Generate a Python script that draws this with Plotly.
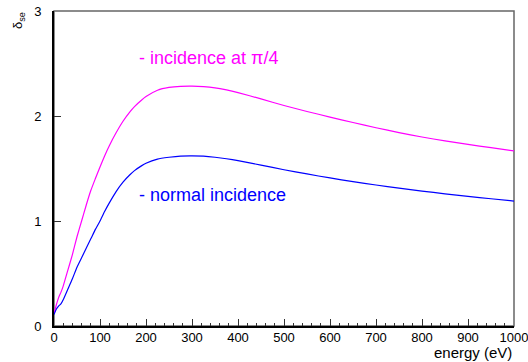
import plotly.graph_objects as go

energy = [0, 5, 10, 15, 20, 30, 40, 50, 60, 70, 80, 90, 100, 110, 120, 135, 150, 165, 175, 190, 200,
          225, 250, 275, 300, 325, 350, 375, 400, 450, 500, 550, 600, 650, 700, 750, 800, 850, 900,
          950, 1000]
yield_pi4 = [0.12, 0.20, 0.27, 0.32, 0.38, 0.53, 0.68, 0.85, 1.00, 1.15, 1.29, 1.405, 1.515, 1.62,
             1.715, 1.84, 1.95, 2.04, 2.09, 2.15, 2.185, 2.245, 2.272, 2.283, 2.285, 2.280, 2.268,
             2.248, 2.223, 2.163, 2.100, 2.043, 1.99, 1.938, 1.888, 1.842, 1.800, 1.763, 1.730,
             1.698, 1.668]
yield_normal = [0.11, 0.16, 0.19, 0.21, 0.25, 0.35, 0.45, 0.56, 0.65, 0.74, 0.83, 0.92, 1.00, 1.09,
                1.17, 1.28, 1.37, 1.44, 1.48, 1.525, 1.55, 1.59, 1.607, 1.618, 1.62, 1.617, 1.607,
                1.593, 1.575, 1.532, 1.488, 1.448, 1.41, 1.375, 1.343, 1.313, 1.285, 1.259, 1.235,
                1.212, 1.19]

x_ticks = list(range(0, 1001, 100))
y_ticks = [0, 1, 2, 3]

FONT = "Liberation Sans"

fig = go.Figure()
fig.add_trace(go.Scatter(x=energy, y=yield_pi4, mode="lines",
                         line=dict(color="#ff00ff", width=1.2, shape="spline", smoothing=0.5),
                         showlegend=False))
fig.add_trace(go.Scatter(x=energy, y=yield_normal, mode="lines",
                         line=dict(color="#0000ff", width=1.2, shape="spline", smoothing=0.5),
                         showlegend=False))

fig.add_shape(type="rect", xref="paper", yref="paper", x0=0, x1=1, y0=0, y1=1,
              line=dict(color="#666666", width=1.5), layer="below")

fig.update_layout(
    width=528, height=362,
    margin=dict(l=54, r=14, t=11, b=36),
    paper_bgcolor="white", plot_bgcolor="white",
    font=dict(family=FONT, size=13, color="black"),
    xaxis=dict(range=[0, 1000], tickvals=x_ticks, ticktext=[str(v) for v in x_ticks],
               ticks="inside", ticklen=7, tickwidth=1, tickcolor="#333333",
               minor=dict(ticks="inside", ticklen=3.5, dtick=20, tickcolor="#333333", showgrid=False),
               showline=True, linecolor="black", linewidth=2, showgrid=False, zeroline=False,
               tickfont=dict(family=FONT, size=13), ticklabeloverflow="allow", automargin=False,
               ticklabelstandoff=-2),
    yaxis=dict(range=[0, 3], tickvals=y_ticks, ticktext=[str(v) for v in y_ticks],
               ticks="inside", ticklen=7, tickwidth=1, tickcolor="#333333",
               showline=True, linecolor="black", linewidth=2, showgrid=False, zeroline=False,
               tickfont=dict(family=FONT, size=13), ticklabelstandoff=8, automargin=False),
)

fig.add_annotation(text="energy (eV)", xref="paper", yref="paper", x=1, y=0, yshift=-26,
                   xanchor="right", yanchor="middle", showarrow=False,
                   font=dict(family=FONT, size=15, color="black"))
fig.add_annotation(text="δ<sub>se</sub>", xref="paper", yref="paper", x=0, y=1, xshift=-36, yshift=-10,
                   textangle=-90, xanchor="center", yanchor="middle", showarrow=False,
                   font=dict(family=FONT, size=13, color="black"))
fig.add_annotation(text="- incidence at π/4", xref="x", yref="y", x=180, y=2.55,
                   xanchor="left", yanchor="middle", showarrow=False,
                   font=dict(family=FONT, size=18, color="#ff00ff"))
fig.add_annotation(text="- normal incidence", xref="x", yref="y", x=180, y=1.25,
                   xanchor="left", yanchor="middle", showarrow=False,
                   font=dict(family=FONT, size=18, color="#0000ff"))

fig.write_html("out.html")
